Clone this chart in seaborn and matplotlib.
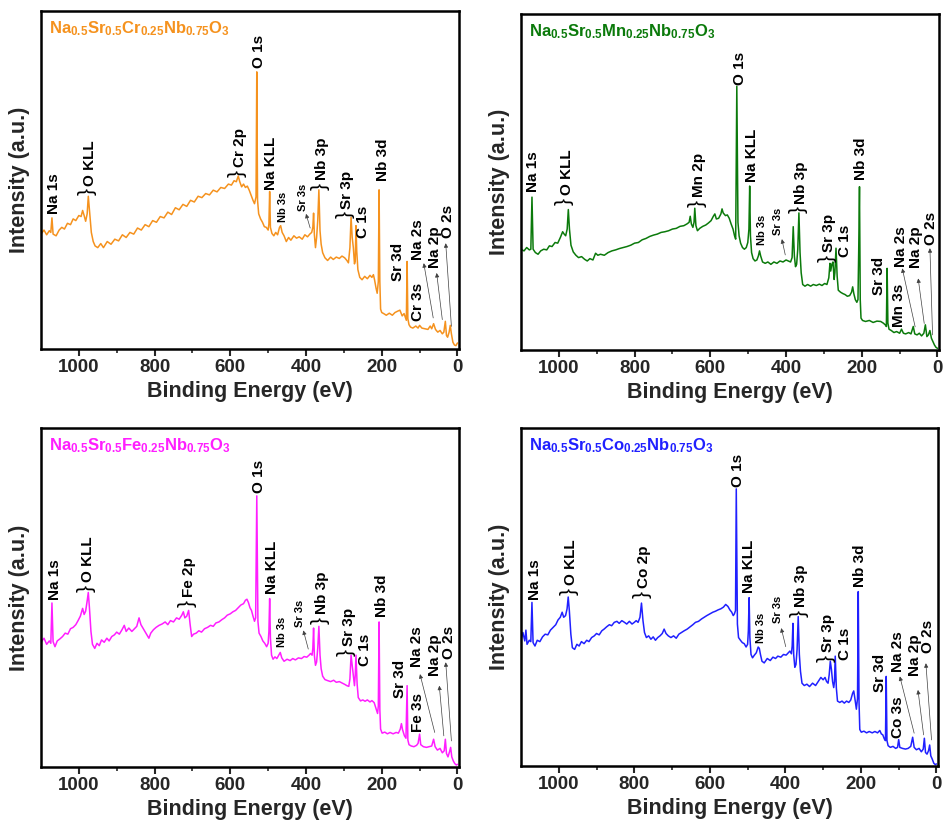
"""
XPS survey spectra of Na0.5Sr0.5M0.25Nb0.75O3 (M = Cr, Mn, Fe, Co).
Intensity values are read off the published figure as a fraction of panel height.
"""

import matplotlib
matplotlib.use("Agg")
import matplotlib.pyplot as plt
import seaborn as sns

# ---------------- data ----------------
cr_energy = [1100, 1092, 1085, 1078, 1074, 1071, 1068, 1060, 1052, 1045,
             1038, 1030, 1022, 1015, 1008, 1000, 994, 990, 986, 982,
             978, 975, 971, 967, 962, 957, 950, 942, 935, 925,
             915, 905, 895, 885, 875, 865, 855, 845, 835, 825,
             815, 805, 795, 785, 775, 765, 755, 745, 735, 725,
             715, 705, 695, 685, 675, 665, 655, 645, 635, 625,
             615, 605, 597, 590, 584, 579, 575, 570, 565, 560,
             555, 550, 545, 540, 536, 532, 530, 528, 525, 520,
             515, 510, 505, 500, 498, 496, 494, 490, 485, 480,
             475, 470, 467, 463, 458, 452, 446, 440, 432, 425,
             418, 410, 403, 396, 390, 385, 382, 380, 378, 375,
             372, 369, 366, 363, 360, 356, 350, 343, 335, 328,
             320, 312, 305, 298, 292, 288, 284, 281, 278, 275,
             272, 270, 268, 266, 263, 258, 252, 245, 238, 231,
             226, 222, 219, 215, 212, 209, 207, 205, 203, 200,
             195, 188, 180, 172, 165, 158, 152, 146, 141, 138,
             135, 133, 131, 128, 124, 118, 110, 104, 100, 94,
             86, 78, 72, 68, 63, 58, 52, 46, 40, 36,
             32, 29, 26, 22, 19, 16, 12, 8, 4, 0]
cr_intensity = [.340, .352, .338, .350, .345, .388, .340, .335, .352, .360,
                .355, .372, .368, .385, .380, .395, .392, .410, .395, .378,
                .400, .452, .400, .345, .318, .305, .300, .312, .300, .318,
                .310, .325, .320, .338, .330, .345, .340, .358, .352, .368,
                .362, .380, .375, .392, .388, .405, .398, .418, .412, .428,
                .422, .440, .435, .452, .448, .460, .456, .470, .465, .478,
                .475, .488, .485, .498, .495, .512, .495, .480, .488, .478,
                .482, .470, .455, .440, .430, .450, .820, .440, .400, .385,
                .375, .362, .360, .352, .370, .466, .360, .342, .335, .345,
                .338, .360, .365, .345, .335, .318, .330, .322, .335, .328,
                .332, .325, .338, .332, .340, .345, .360, .402, .340, .300,
                .330, .380, .471, .350, .310, .285, .270, .262, .272, .265,
                .272, .268, .275, .270, .262, .255, .300, .390, .330, .300,
                .252, .260, .365, .290, .235, .212, .205, .215, .208, .218,
                .212, .220, .205, .180, .165, .200, .471, .200, .118, .108,
                .105, .100, .106, .100, .108, .112, .115, .098, .105, .095,
                .085, .259, .090, .072, .065, .062, .068, .062, .070, .062,
                .060, .058, .068, .060, .075, .058, .050, .055, .045, .050,
                .082, .040, .035, .050, .070, .045, .020, .012, .010, .018]

mn_energy = [1100, 1092, 1085, 1078, 1074, 1071, 1068, 1062, 1055, 1048,
             1040, 1032, 1025, 1018, 1010, 1003, 996, 990, 986, 982,
             978, 975, 972, 968, 962, 955, 948, 940, 932, 925,
             918, 910, 903, 897, 890, 880, 870, 860, 850, 840,
             830, 820, 810, 800, 790, 780, 770, 760, 750, 740,
             730, 720, 710, 700, 690, 680, 670, 662, 656, 653,
             650, 646, 643, 641, 638, 634, 628, 620, 612, 605,
             598, 592, 588, 584, 578, 572, 569, 566, 560, 555,
             550, 545, 540, 536, 533, 530, 527, 524, 520, 515,
             510, 505, 501, 498, 496, 494, 491, 487, 482, 477,
             473, 470, 467, 462, 455, 448, 440, 432, 424, 416,
             408, 400, 394, 388, 384, 381, 378, 375, 372, 369,
             366, 363, 360, 356, 350, 343, 335, 328, 320, 312,
             305, 298, 292, 287, 284, 282, 279, 276, 273, 271,
             268, 265, 262, 256, 250, 244, 238, 232, 227, 224,
             221, 217, 213, 210, 208, 206, 204, 202, 198, 190,
             180, 170, 160, 150, 143, 138, 135, 133, 131, 128,
             122, 115, 108, 100, 95, 90, 84, 76, 70, 64,
             60, 54, 48, 42, 36, 32, 28, 24, 20, 16,
             12, 8, 4, 0]
mn_intensity = [.300, .295, .305, .298, .300, .455, .300, .290, .285, .295,
                .300, .298, .310, .308, .320, .318, .335, .352, .345, .340,
                .360, .418, .360, .312, .292, .282, .275, .278, .270, .265,
                .272, .268, .288, .282, .285, .282, .290, .295, .298, .302,
                .305, .308, .312, .318, .320, .328, .332, .338, .342, .345,
                .350, .352, .355, .360, .362, .368, .370, .375, .380, .398,
                .375, .365, .380, .422, .370, .355, .362, .368, .372, .378,
                .385, .398, .405, .390, .392, .405, .420, .408, .400, .402,
                .392, .375, .360, .340, .330, .785, .380, .340, .318, .305,
                .300, .305, .320, .360, .488, .340, .290, .272, .265, .268,
                .280, .295, .280, .262, .258, .262, .255, .262, .258, .265,
                .262, .268, .265, .262, .275, .367, .280, .248, .255, .300,
                .408, .290, .230, .195, .190, .195, .190, .195, .192, .196,
                .192, .198, .195, .215, .258, .235, .255, .262, .210, .230,
                .303, .220, .178, .172, .168, .165, .160, .162, .172, .188,
                .168, .150, .142, .150, .300, .486, .150, .095, .088, .085,
                .088, .082, .086, .085, .080, .075, .070, .243, .080, .062,
                .058, .052, .055, .050, .062, .050, .048, .052, .048, .070,
                .048, .045, .050, .042, .050, .075, .040, .045, .058, .035,
                .025, .015, .008, .005]

fe_energy = [1100, 1092, 1085, 1078, 1074, 1071, 1068, 1063, 1057, 1050,
             1043, 1036, 1029, 1022, 1015, 1008, 1002, 996, 990, 986,
             982, 978, 975, 972, 968, 964, 958, 952, 946, 940,
             933, 926, 920, 913, 906, 900, 893, 886, 880, 875,
             868, 860, 853, 847, 841, 836, 828, 820, 815, 810,
             803, 796, 788, 780, 772, 765, 758, 750, 742, 735,
             728, 724, 720, 715, 710, 706, 702, 697, 690, 683,
             676, 668, 660, 652, 645, 638, 630, 622, 615, 608,
             600, 593, 586, 579, 572, 565, 560, 556, 552, 548,
             544, 540, 536, 533, 530, 527, 524, 519, 514, 509,
             504, 500, 498, 496, 494, 491, 487, 482, 477, 472,
             468, 464, 458, 450, 442, 435, 428, 420, 412, 405,
             398, 392, 388, 384, 382, 380, 378, 375, 372, 369,
             366, 363, 360, 356, 350, 343, 335, 327, 320, 312,
             305, 298, 292, 287, 284, 281, 278, 275, 272, 270,
             268, 265, 262, 256, 250, 244, 238, 231, 226, 220,
             215, 211, 209, 207, 205, 203, 199, 192, 185, 178,
             170, 162, 156, 151, 148, 145, 140, 136, 133, 131,
             128, 122, 115, 108, 104, 100, 97, 90, 82, 75,
             68, 63, 59, 53, 46, 40, 35, 32, 29, 25,
             21, 18, 15, 11, 7, 3, 0]
fe_intensity = [.368, .380, .362, .372, .365, .484, .370, .355, .372, .378,
                .385, .395, .392, .408, .412, .420, .432, .445, .468, .450,
                .460, .490, .515, .470, .400, .362, .350, .365, .358, .375,
                .368, .380, .372, .385, .390, .398, .392, .405, .418, .400,
                .410, .400, .408, .415, .440, .420, .405, .390, .380, .395,
                .405, .412, .418, .422, .428, .420, .432, .428, .440, .436,
                .448, .458, .440, .445, .462, .420, .385, .392, .395, .402,
                .398, .408, .412, .418, .415, .425, .428, .435, .440, .448,
                .452, .458, .462, .470, .478, .482, .492, .495, .485, .470,
                .462, .445, .430, .440, .800, .430, .395, .385, .372, .365,
                .355, .365, .400, .497, .380, .330, .318, .325, .320, .330,
                .338, .322, .312, .318, .314, .320, .316, .322, .320, .326,
                .324, .330, .335, .330, .350, .410, .330, .300, .310, .350,
                .415, .330, .290, .268, .258, .255, .252, .256, .250, .252,
                .248, .244, .240, .238, .260, .330, .300, .268, .240, .270,
                .330, .245, .205, .195, .198, .194, .198, .192, .196, .190,
                .172, .158, .180, .428, .170, .112, .100, .103, .098, .102,
                .098, .102, .100, .112, .128, .110, .092, .085, .240, .080,
                .066, .062, .060, .064, .070, .097, .066, .060, .058, .060,
                .062, .082, .060, .050, .055, .042, .048, .082, .040, .030,
                .045, .058, .030, .018, .010, .006, .008]

co_energy = [1100, 1095, 1090, 1087, 1084, 1078, 1074, 1071, 1068, 1063,
             1057, 1050, 1043, 1036, 1029, 1022, 1015, 1008, 1002, 996,
             991, 987, 982, 978, 975, 972, 968, 964, 958, 952,
             946, 940, 933, 926, 920, 913, 906, 900, 893, 886,
             880, 873, 866, 860, 853, 846, 840, 833, 826, 820,
             813, 806, 800, 795, 790, 785, 781, 777, 773, 768,
             762, 756, 750, 744, 738, 732, 726, 721, 716, 710,
             703, 696, 689, 682, 675, 668, 660, 652, 645, 638,
             630, 622, 615, 608, 600, 592, 585, 578, 571, 564,
             558, 552, 547, 542, 538, 535, 532, 530, 527, 524,
             519, 514, 509, 504, 500, 498, 496, 494, 491, 487,
             482, 477, 472, 469, 466, 462, 456, 448, 440, 433,
             426, 420, 412, 405, 398, 392, 388, 384, 382, 380,
             378, 375, 372, 369, 366, 363, 360, 356, 350, 343,
             336, 328, 320, 313, 306, 300, 295, 291, 287, 284,
             281, 278, 275, 272, 270, 268, 265, 262, 256, 250,
             244, 238, 232, 227, 222, 219, 216, 212, 209, 207,
             205, 203, 199, 192, 185, 178, 170, 163, 156, 150,
             146, 142, 138, 135, 133, 131, 128, 122, 115, 108,
             103, 100, 97, 90, 82, 75, 68, 63, 59, 53,
             46, 40, 35, 32, 29, 25, 21, 18, 15, 11,
             7, 3, 0]
co_intensity = [.373, .395, .370, .402, .360, .372, .368, .484, .365, .355,
                .372, .368, .382, .390, .388, .402, .410, .418, .432, .440,
                .455, .440, .445, .465, .500, .460, .390, .350, .345, .360,
                .355, .368, .362, .372, .368, .380, .385, .392, .388, .400,
                .405, .412, .418, .415, .425, .428, .422, .430, .425, .420,
                .428, .420, .425, .430, .425, .440, .482, .430, .395, .380,
                .385, .375, .382, .372, .380, .385, .392, .405, .392, .385,
                .380, .385, .378, .390, .395, .400, .405, .412, .418, .425,
                .428, .435, .440, .445, .450, .455, .458, .462, .465, .470,
                .478, .472, .462, .455, .445, .450, .460, .820, .420, .380,
                .372, .365, .362, .352, .360, .400, .498, .380, .330, .320,
                .328, .335, .352, .348, .330, .310, .305, .318, .312, .322,
                .318, .325, .322, .330, .328, .335, .340, .332, .355, .422,
                .330, .292, .300, .345, .442, .330, .280, .245, .238, .242,
                .235, .245, .238, .250, .262, .255, .262, .250, .245, .270,
                .310, .285, .250, .232, .250, .325, .230, .192, .188, .192,
                .186, .192, .188, .195, .215, .222, .200, .168, .200, .516,
                .190, .108, .100, .103, .098, .102, .098, .102, .098, .105,
                .095, .092, .080, .075, .265, .075, .060, .055, .058, .052,
                .055, .078, .055, .052, .050, .052, .058, .085, .055, .048,
                .052, .042, .050, .082, .040, .035, .045, .062, .030, .020,
                .008, .004, .006]

compositions = ["Cr", "Mn", "Fe", "Co"]
line_colors = ["#F5921E", "#0B7A0B", "#FF1EFF", "#2020FF"]

# ---------------- annotation layout (label, eV, height) ----------------
# a leading "}" means the label sits on a brace spanning a doublet
BIG, SMALL = 11, 8
cr_labels = [("Na 1s", 1066, .400, BIG), ("}O KLL", 977, .455, BIG),
             ("}Cr 2p", 581, .510, BIG), ("O 1s", 523, .830, BIG),
             ("Na KLL", 492, .470, BIG), ("Nb 3s", 461, .377, SMALL),
             ("Sr 3s", 407, .407, SMALL), ("}Nb 3p", 363, .471, BIG),
             ("}Sr 3p", 297, .387, BIG), ("C 1s", 249, .328, BIG),
             ("Nb 3d", 196, .496, BIG), ("Sr 3d", 156, .200, BIG),
             ("Cr 3s", 104, .082, BIG), ("Na 2s", 104, .264, BIG),
             ("Na 2p", 60, .239, BIG), ("O 2s", 25, .328, BIG)]
mn_labels = [("Na 1s", 1069, .471, BIG), ("}O KLL", 985, .432, BIG),
             ("}Mn 2p", 636, .427, BIG), ("O 1s", 521, .789, BIG),
             ("Na KLL", 490, .501, BIG), ("Nb 3s", 464, .313, SMALL),
             ("Sr 3s", 420, .342, SMALL), ("}Nb 3p", 367, .407, BIG),
             ("}Sr 3p", 292, .263, BIG), ("C 1s", 243, .278, BIG),
             ("Nb 3d", 203, .506, BIG), ("Sr 3d", 155, .164, BIG),
             ("Mn 3s", 102, .069, BIG), ("Na 2s", 97, .248, BIG),
             ("Na 2p", 57, .243, BIG), ("O 2s", 18, .312, BIG)]
fe_labels = [("Na 1s", 1064, .492, BIG), ("}O KLL", 982, .516, BIG),
             ("}Fe 2p", 714, .472, BIG), ("O 1s", 525, .808, BIG),
             ("Na KLL", 490, .511, BIG), ("Nb 3s", 464, .353, SMALL),
             ("Sr 3s", 416, .413, SMALL), ("}Nb 3p", 363, .423, BIG),
             ("}Sr 3p", 293, .329, BIG), ("C 1s", 244, .299, BIG),
             ("Nb 3d", 200, .442, BIG), ("Sr 3d", 152, .205, BIG),
             ("Fe 3s", 104, .102, BIG), ("Na 2s", 108, .294, BIG),
             ("Na 2p", 60, .270, BIG), ("O 2s", 22, .319, BIG)]
co_labels = [("Na 1s", 1064, .492, BIG), ("}O KLL", 973, .506, BIG),
             ("}Co 2p", 780, .497, BIG), ("O 1s", 526, .827, BIG),
             ("Na KLL", 495, .511, BIG), ("Nb 3s", 464, .363, SMALL),
             ("Sr 3s", 420, .422, SMALL), ("}Nb 3p", 364, .442, BIG),
             ("}Sr 3p", 293, .309, BIG), ("C 1s", 243, .314, BIG),
             ("Nb 3d", 203, .531, BIG), ("Sr 3d", 150, .220, BIG),
             ("Co 3s", 102, .082, BIG), ("Na 2s", 102, .279, BIG),
             ("Na 2p", 57, .265, BIG), ("O 2s", 22, .334, BIG)]

# arrows: (head eV, head y, tail eV, tail y)
cr_arrows = [(400, .400, 389, .358), (89, .254, 64, .092),
             (55, .225, 40, .087), (31, .313, 16, .067)]
mn_arrows = [(411, .330, 402, .283), (93, .243, 59, .069),
             (51, .213, 35, .079), (20, .303, 13, .045)]
fe_arrows = [(407, .403, 394, .348), (99, .274, 60, .102),
             (48, .240, 36, .092), (31, .309, 16, .077)]
co_arrows = [(411, .408, 399, .353), (97, .265, 59, .097),
             (49, .225, 34, .092), (28, .304, 13, .077)]

panels = [
    (cr_energy, cr_intensity, cr_labels, cr_arrows),
    (mn_energy, mn_intensity, mn_labels, mn_arrows),
    (fe_energy, fe_intensity, fe_labels, fe_arrows),
    (co_energy, co_intensity, co_labels, co_arrows),
]

axes_rects = [
    [0.0434, 0.5759, 0.4428, 0.4107],
    [0.5519, 0.5747, 0.4428, 0.4083],
    [0.0434, 0.0680, 0.4428, 0.4119],
    [0.5519, 0.0693, 0.4417, 0.4106],
]

# ---------------- style ----------------
sns.set_style("ticks")
plt.rcParams["font.family"] = ["Liberation Sans", "DejaVu Sans"]
plt.rcParams["font.weight"] = "bold"
plt.rcParams["mathtext.fontset"] = "custom"
plt.rcParams["mathtext.rm"] = "Liberation Sans:bold"
plt.rcParams["mathtext.bf"] = "Liberation Sans:bold"
plt.rcParams["mathtext.default"] = "bf"

fig = plt.figure(figsize=(9.44, 8.23), dpi=100)

for (energy, intensity, labels, arrows), rect, metal, color in zip(
        panels, axes_rects, compositions, line_colors):
    assert len(energy) == len(intensity)
    ax = fig.add_axes(rect)
    sns.lineplot(x=energy, y=intensity, ax=ax, color=color, linewidth=1.1,
                 estimator=None, sort=False)

    ax.set_xlim(1100, -4)
    ax.set_ylim(0, 1)
    ax.set_yticks([])
    ax.set_xticks([1000, 800, 600, 400, 200, 0])
    ax.set_xticks([900, 700, 500, 300, 100], minor=True)
    ax.tick_params(axis="x", which="major", direction="out", length=5,
                   width=1.5, labelsize=13.5, pad=2)
    ax.tick_params(axis="x", which="minor", direction="out", length=3, width=1.2)
    for lbl in ax.get_xticklabels():
        lbl.set_fontweight("bold")
    for spine in ax.spines.values():
        spine.set_visible(True)
        spine.set_linewidth(1.8)
        spine.set_color("black")

    ax.set_xlabel("Binding Energy (eV)", fontsize=15.5, fontweight="bold", labelpad=4)
    ax.set_ylabel("Intensity (a.u.)", fontsize=15.5, fontweight="bold", labelpad=8)

    title = rf"Na$_{{0.5}}$Sr$_{{0.5}}${metal}$_{{0.25}}$Nb$_{{0.75}}$O$_3$"
    ax.text(0.02, 0.975, title, transform=ax.transAxes, color=color,
            fontsize=12, fontweight="bold", ha="left", va="top")

    for text, x, y, size in labels:
        if text.startswith("}"):
            ax.text(x, y, "}", rotation=90, ha="center", va="bottom",
                    fontsize=15, fontweight="normal", color="black")
            ax.annotate(text[1:], xy=(x, y), xytext=(1.5, 7),
                        textcoords="offset points", rotation=90,
                        ha="center", va="bottom", fontsize=size,
                        fontweight="bold", color="black")
        else:
            ax.text(x, y, text, rotation=90, ha="center", va="bottom",
                    fontsize=size, fontweight="bold", color="black")

    for hx, hy, tx, ty in arrows:
        ax.annotate("", xy=(hx, hy), xytext=(tx, ty),
                    arrowprops=dict(arrowstyle="-|>", lw=0.5, color="0.25",
                                    mutation_scale=6, shrinkA=0, shrinkB=0))

fig.savefig("out.png", dpi=100)
